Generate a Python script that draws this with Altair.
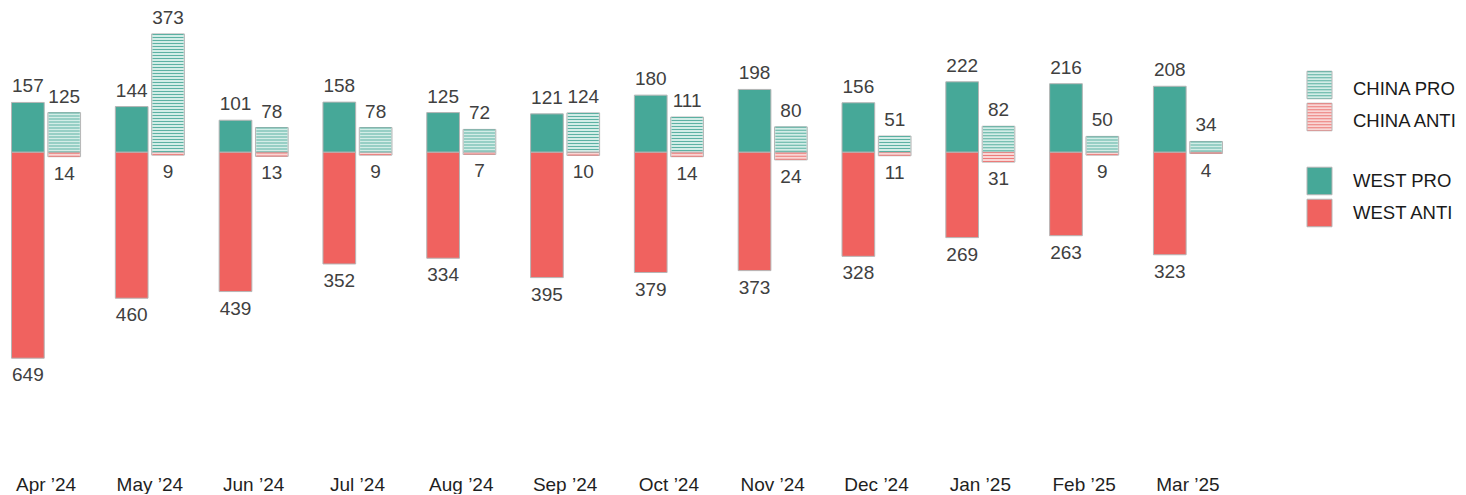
import altair as alt
import pandas as pd

months = ["Apr ’24", "May ’24", "Jun ’24", "Jul ’24", "Aug ’24", "Sep ’24",
          "Oct ’24", "Nov ’24", "Dec ’24", "Jan ’25", "Feb ’25", "Mar ’25"]
west_pro = [157, 144, 101, 158, 125, 121, 180, 198, 156, 222, 216, 208]
west_anti = [649, 460, 439, 352, 334, 395, 379, 373, 328, 269, 263, 323]
china_pro = [125, 373, 78, 78, 72, 124, 111, 80, 51, 82, 50, 34]
china_anti = [14, 9, 13, 9, 7, 10, 14, 24, 11, 31, 9, 4]

legend_labels = ["CHINA PRO", "CHINA ANTI", "WEST PRO", "WEST ANTI"]
legend_slots = [0, 1, 3, 4]

FONT = "Liberation Sans"
TEAL = "#46a898"
RED = "#f0625f"
TEAL_LIGHT = "#d3ede7"
RED_LIGHT = "#f9d6d5"
TEAL_STRIPE = "#55ae9f"
RED_STRIPE = "#ec7775"
BORDER = "#b5b5b5"

rows = []
for i, m in enumerate(months):
    rows.append(dict(month=m, source="West", stance="PRO", value=west_pro[i], signed=west_pro[i], key="WEST PRO"))
    rows.append(dict(month=m, source="West", stance="ANTI", value=west_anti[i], signed=-west_anti[i], key="WEST ANTI"))
    rows.append(dict(month=m, source="China", stance="PRO", value=china_pro[i], signed=china_pro[i], key="CHINA PRO"))
    rows.append(dict(month=m, source="China", stance="ANTI", value=china_anti[i], signed=-china_anti[i], key="CHINA ANTI"))
df = pd.DataFrame(rows)

fill_scale = alt.Scale(domain=["WEST PRO", "WEST ANTI", "CHINA PRO", "CHINA ANTI"],
                       range=[TEAL, RED, TEAL_LIGHT, RED_LIGHT])
stripe_scale = alt.Scale(domain=["CHINA PRO", "CHINA ANTI"], range=[TEAL_STRIPE, RED_STRIPE])

x_enc = alt.X("month:N", sort=months, title=None,
              scale=alt.Scale(paddingInner=0.335, paddingOuter=0.034),
              axis=alt.Axis(labelAngle=0, domain=False, ticks=False, labelFont=FONT,
                            labelFontSize=19, labelColor="#1f1f1f", labelPadding=7))
xoff = alt.XOffset("source:N", scale=alt.Scale(domain=["West", "China"], paddingInner=0.1, paddingOuter=0))
y_enc = alt.Y("signed:Q", scale=alt.Scale(domain=[-995, 442], nice=False, zero=False), axis=None)

base = alt.Chart(df).encode(x=x_enc, xOffset=xoff)

bars = base.mark_bar(stroke=BORDER, strokeWidth=1).encode(
    y=y_enc, y2=alt.datum(0),
    fill=alt.Fill("key:N", scale=fill_scale, legend=None),
)

stripes = base.transform_filter(alt.datum.source == "China").mark_rule(
    strokeWidth=31, strokeDash=[1, 2], strokeCap="butt", opacity=0.95
).encode(
    y=y_enc, y2=alt.datum(0),
    color=alt.Color("key:N", scale=stripe_scale, legend=None),
)

pro_text = base.transform_filter(alt.datum.stance == "PRO").mark_text(
    baseline="alphabetic", dy=-10, font=FONT, fontSize=19, color="#404040"
).encode(y=y_enc, text="value:Q")

anti_text = base.transform_filter(alt.datum.stance == "ANTI").mark_text(
    baseline="top", dy=8, font=FONT, fontSize=19, color="#404040"
).encode(y=y_enc, text="value:Q")

main = alt.layer(bars, stripes, pro_text, anti_text).properties(width=1218, height=456)

# legend panel
leg = pd.DataFrame(dict(label=legend_labels, slot=legend_slots))
ly = alt.Scale(domain=[-2.281, 11.969], reverse=True, nice=False, zero=False)
lx = alt.Scale(domain=[0, 150], nice=False, zero=False)
lbase = alt.Chart(leg).transform_calculate(
    top="datum.slot - 0.43", bottom="datum.slot + 0.43", x0="0", x1="25", xc="12.5", xt="46",
    ty="datum.slot < 2 ? datum.slot + 0.12 : datum.slot"
)
lsym = lbase.mark_rect(stroke=BORDER, strokeWidth=1).encode(
    x=alt.X("x0:Q", scale=lx, axis=None), x2="x1:Q",
    y=alt.Y("top:Q", scale=ly, axis=None), y2="bottom:Q",
    fill=alt.Fill("label:N", scale=fill_scale, legend=None),
)
lstripe = lbase.transform_filter(alt.datum.slot < 2).mark_rule(
    strokeWidth=24, strokeDash=[1, 2], strokeCap="butt", opacity=0.95
).encode(
    x=alt.X("xc:Q", scale=lx, axis=None),
    y=alt.Y("top:Q", scale=ly, axis=None), y2="bottom:Q",
    color=alt.Color("label:N", scale=stripe_scale, legend=None),
)
ltext = lbase.mark_text(align="left", baseline="middle", font=FONT, fontSize=18.5, color="#1a1a1a").encode(
    x=alt.X("xt:Q", scale=lx, axis=None),
    y=alt.Y("ty:Q", scale=ly, axis=None),
    text="label:N",
)
legend = alt.layer(lsym, lstripe, ltext).properties(width=150, height=456)

chart = alt.hconcat(main, legend, spacing=80).resolve_scale(
    fill="independent", color="independent", y="independent", x="independent"
).properties(
    padding={"left": 0, "top": 0, "right": 0, "bottom": 0}, background="white"
).configure_view(strokeWidth=0, stroke=None)

chart.save("out.html", embed_options={"renderer": "svg", "actions": False})
